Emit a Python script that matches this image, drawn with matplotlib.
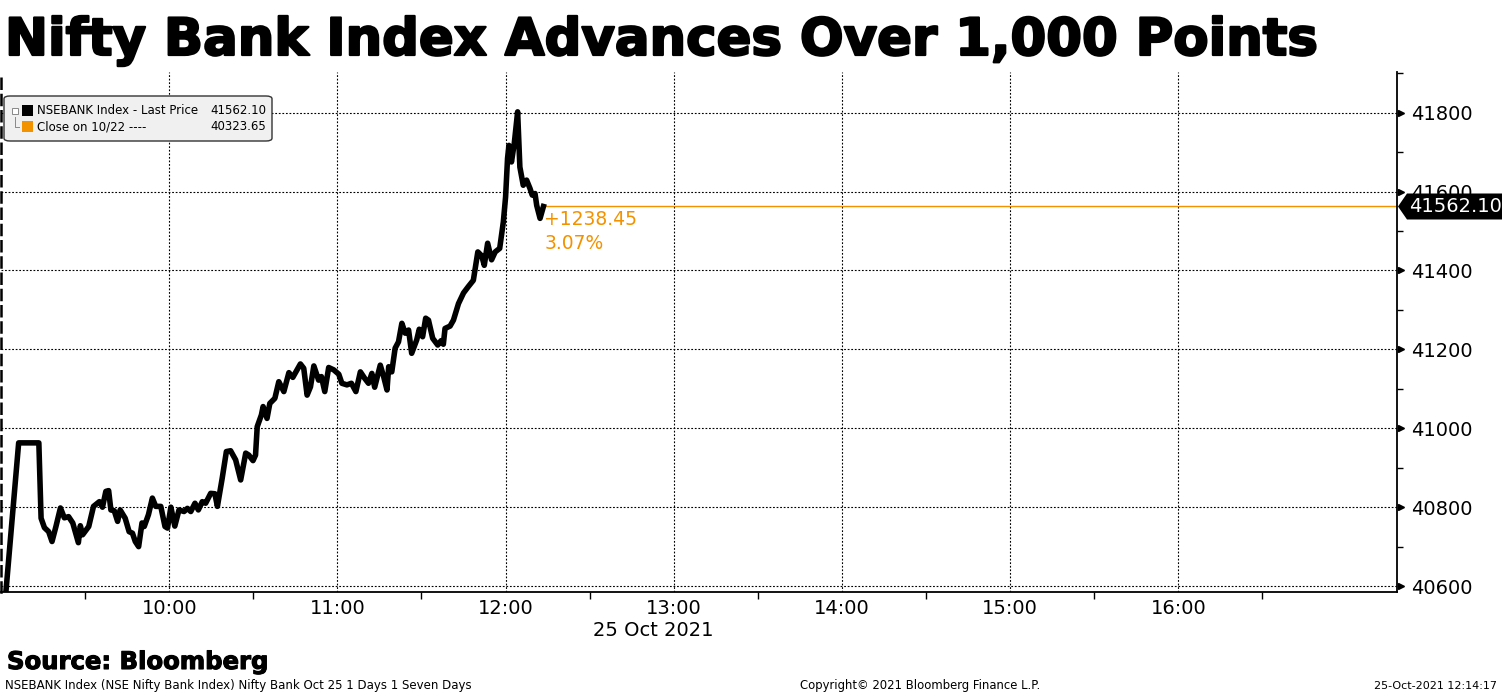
import matplotlib
matplotlib.use("Agg")
import matplotlib.pyplot as plt
from matplotlib.patches import FancyBboxPatch, Polygon, Rectangle
from matplotlib.ticker import FixedLocator, MultipleLocator
import matplotlib.transforms as mtransforms
import matplotlib.patheffects as pe

plt.rcParams['font.family'] = ['DejaVu Sans']

# ---------------- data ----------------
title = "Nifty Bank Index Advances Over 1,000 Points"
# minutes after 09:00 on 25 Oct 2021
minutes = [0, 6.3, 13.5, 14.3, 15.5, 17.0, 18.2, 19.6, 21.2, 22.6, 24.1, 25.6, 27.6, 28.3, 29.1,
           31.3, 33.0, 35.1, 36.2, 37.4, 38.4, 39.2, 40.4, 41.6, 42.5, 44.3, 45.7, 46.9, 47.9,
           49.1, 50.3, 51.1, 52.6, 54.0, 55.2, 57.0, 58.5, 59.4, 60.6, 62.0, 63.5, 65.3, 66.5,
           67.7, 69.2, 70.4, 71.8, 73.0, 74.8, 76.3, 77.2, 78.9, 80.4, 81.9, 83.7, 85.5, 87.3,
           88.4, 89.9, 90.8, 91.4, 92.9, 93.5, 94.9, 95.9, 97.7, 99.1, 100.9, 102.7, 104.1,
           106.8, 108.0, 109.2, 110.4, 111.6, 113.3, 114.3, 115.5, 116.9, 118.7, 120.5, 121.6,
           123.4, 125.0, 126.6, 128.2, 129.7, 131.1, 132.3, 133.3, 135.3, 136.5, 137.7, 138.3,
           139.4, 140.6, 141.8, 143.0, 144.2, 145.4, 146.5, 148.3, 149.2, 150.4, 151.5, 152.5,
           154.0, 155.8, 157.0, 157.8, 158.4, 160.2, 161.4, 163.2, 165.0, 166.7, 168.5, 170.1,
           171.5, 172.4, 173.6, 175.0, 176.3, 177.9, 179.2, 180.0, 180.7, 181.2, 182.1, 183.1,
           184.3, 185.1, 186.3, 187.5, 188.7, 189.5, 190.5, 191.1, 192.3, 193.5]
prices = [40440, 40963, 40963, 40772, 40748, 40738, 40713, 40751, 40798, 40773, 40776, 40760,
          40710, 40753, 40730, 40751, 40802, 40814, 40800, 40840, 40842, 40793, 40791, 40764,
          40793, 40772, 40738, 40734, 40713, 40700, 40760, 40751, 40781, 40823, 40802, 40802,
          40751, 40747, 40800, 40752, 40793, 40789, 40797, 40789, 40810, 40793, 40814, 40810,
          40835, 40834, 40802, 40873, 40941, 40943, 40920, 40869, 40937, 40932, 40918, 40932,
          41004, 41034, 41055, 41025, 41063, 41076, 41118, 41093, 41141, 41129, 41163, 41152,
          41084, 41105, 41158, 41122, 41131, 41093, 41154, 41148, 41137, 41114, 41110, 41114,
          41093, 41143, 41127, 41114, 41139, 41104, 41160, 41131, 41097, 41156, 41143, 41203,
          41219, 41266, 41241, 41249, 41190, 41224, 41251, 41232, 41279, 41274, 41228, 41211,
          41222, 41213, 41253, 41259, 41274, 41316, 41343, 41359, 41375, 41447, 41437, 41413,
          41469, 41427, 41447, 41456, 41523, 41586, 41684, 41717, 41675, 41722, 41802, 41662,
          41616, 41629, 41608, 41591, 41595, 41565, 41532, 41562.10]
last_price = 41562.10
prev_close = 40323.65
change_txt = "+1238.45"
pct_txt = "3.07%"
hour_ticks = [60, 120, 180, 240, 300, 360, 420]
hour_labels = ["10:00", "11:00", "12:00", "13:00", "14:00", "15:00", "16:00"]
y_ticks = [40600, 40800, 41000, 41200, 41400, 41600, 41800]
date_label = "25 Oct 2021"
legend_rows = [("NSEBANK Index - Last Price", "41562.10"), ("Close on 10/22 ----", "40323.65")]

ORANGE = "#F39200"
W, H = 1502, 695

def fx(x):
    return x / W

def fy(y):
    return 1 - y / H

fig = plt.figure(figsize=(W / 100, H / 100), dpi=100)
ax = fig.add_axes([fx(1), fy(592), fx(1396), 520 / H])
ax.set_xlim(0, 498)
ax.set_ylim(40585, 41903)

# grid
for v in y_ticks:
    ax.axhline(v, color='black', lw=0.8, ls=(0, (1.6, 1.6)), zorder=1)
for m in hour_ticks:
    ax.axvline(m, color='black', lw=0.8, ls=(0, (1.6, 1.6)), zorder=1)

# price line
ax.plot(minutes, prices, color='black', lw=4.0, solid_joinstyle='round', zorder=3)
# orange level line
ax.plot([minutes[-1], 498], [last_price, last_price], color=ORANGE, lw=1.0, zorder=2)
ax.text(minutes[-1] + 0.3, last_price - 8, change_txt, color=ORANGE, fontsize=13.5,
        ha='left', va='top', zorder=4)
ax.text(minutes[-1] + 0.3, last_price - 70, pct_txt, color=ORANGE, fontsize=13.5,
        ha='left', va='top', zorder=4)

# spines
ax.spines['top'].set_visible(False)
ax.spines['left'].set_linestyle((0, (4, 2.5)))
ax.spines['left'].set_linewidth(1.8)
ax.spines['right'].set_linewidth(1.3)
ax.spines['bottom'].set_linewidth(1.3)

# x ticks
ax.xaxis.set_major_locator(FixedLocator(hour_ticks))
ax.set_xticklabels(hour_labels)
ax.xaxis.set_minor_locator(FixedLocator([30 + 60 * i for i in range(9)]))
ax.tick_params(axis='x', which='major', length=0, labelsize=14, pad=5)
ax.tick_params(axis='x', which='minor', length=5, width=1, direction='out')

# y ticks on right
ax.yaxis.tick_right()
ax.yaxis.set_major_locator(FixedLocator(y_ticks))
ax.set_yticklabels([str(v) for v in y_ticks])
ax.yaxis.set_minor_locator(MultipleLocator(100))
ax.tick_params(axis='y', which='major', length=0, labelsize=14, pad=10)
ax.tick_params(axis='y', which='minor', length=4, width=1, direction='out')
ax.tick_params(axis='y', which='both', left=False)
# arrow markers at labelled ticks
trans = mtransforms.blended_transform_factory(ax.transAxes, ax.transData)
ax.plot([1.003] * len(y_ticks), y_ticks, marker='>', ls='none', ms=5, color='black',
        transform=trans, clip_on=False, zorder=5)

# date label
fig.text(fx(653), fy(631), date_label, ha='center', va='center', fontsize=14)

# last price tag
fig.canvas.draw()
_, ypix = ax.transData.transform((0, last_price))
yt = H - ypix  # pixel from top
xr = 1398
tag = Polygon([[fx(xr), fy(yt)], [fx(xr + 9), fy(yt - 13)], [fx(1502), fy(yt - 13)],
               [fx(1502), fy(yt + 13)], [fx(xr + 9), fy(yt + 13)]],
              closed=True, transform=fig.transFigure, facecolor='black', edgecolor='none', zorder=10)
fig.add_artist(tag)
fig.text(fx(1455), fy(yt), f"{last_price:.2f}", color='white', fontsize=14, ha='center',
         va='center', zorder=11)

# legend box
leg = FancyBboxPatch((fx(4), fy(141)), fx(268), (141 - 96) / H,
                     boxstyle="round,pad=0,rounding_size=0.004", transform=fig.transFigure,
                     facecolor='#F0F0F0', edgecolor='#333333', lw=1.0, zorder=10)
fig.add_artist(leg)
# tree icon
fig.add_artist(Rectangle((fx(12), fy(114)), fx(6), 6 / H, transform=fig.transFigure,
                         facecolor='white', edgecolor='#888888', lw=0.7, zorder=11))
fig.add_artist(plt.Line2D([fx(15), fx(15), fx(19)], [fy(117), fy(127), fy(127)],
                          transform=fig.transFigure, color='#888888', lw=0.7, zorder=11))
fig.add_artist(Rectangle((fx(22), fy(116)), fx(11), 11 / H, transform=fig.transFigure,
                         facecolor='black', edgecolor='none', zorder=11))
fig.add_artist(Rectangle((fx(22), fy(132)), fx(11), 11 / H, transform=fig.transFigure,
                         facecolor=ORANGE, edgecolor='none', zorder=11))
for i, (lab, val) in enumerate(legend_rows):
    yy = 111 + 16 * i
    fig.text(fx(37), fy(yy), lab, fontsize=8.5, ha='left', va='center', zorder=12)
    fig.text(fx(266), fy(yy), val, fontsize=8.5, ha='right', va='center', zorder=12)

# title and footer
fig.text(fx(5), fy(55), title, fontsize=37, fontweight='bold', ha='left', va='baseline',
         path_effects=[pe.withStroke(linewidth=1.6, foreground='black')])
fig.text(fx(7), fy(669), "Source: Bloomberg", fontsize=17.5, fontweight='bold', ha='left',
         va='baseline', path_effects=[pe.withStroke(linewidth=0.8, foreground='black')])
fig.text(fx(5), fy(686), "NSEBANK Index (NSE Nifty Bank Index) Nifty Bank Oct 25 1 Days 1 Seven Days",
         fontsize=8.5, ha='left', va='center')
fig.text(fx(800), fy(686), "Copyright\u00a9 2021 Bloomberg Finance L.P.", fontsize=8.4, ha='left', va='center')
fig.text(fx(1497), fy(686), "25-Oct-2021 12:14:17", fontsize=8.0, ha='right', va='center')

fig.savefig("out.png", dpi=100)
